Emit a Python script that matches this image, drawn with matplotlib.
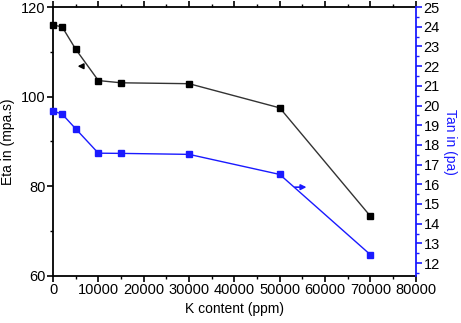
import matplotlib
matplotlib.use("Agg")
import matplotlib.pyplot as plt
from matplotlib.ticker import MultipleLocator

plt.rcParams["font.family"] = ["Liberation Sans", "DejaVu Sans"]

# K content (ppm)
k_content = [0, 2000, 5000, 10000, 15000, 30000, 50000, 70000]
# Eta (left axis, mpa.s)
eta = [116.0, 115.6, 110.6, 103.6, 103.1, 102.9, 97.5, 73.3]
# Tan (right axis, pa)
tan = [19.72, 19.57, 18.82, 17.58, 17.57, 17.52, 16.5, 12.42]

BLUE = "#1a1aff"

fig = plt.figure(figsize=(4.61, 3.23), dpi=100)
ax = fig.add_axes([0.115, 0.146, 0.787, 0.832])
ax2 = ax.twinx()

ax.plot(k_content, eta, color="#333333", lw=1.0, marker="s", ms=4.5,
        mfc="black", mec="black", zorder=3, clip_on=False)
ax2.plot(k_content, tan, color=BLUE, lw=1.0, marker="s", ms=4.5,
         mfc=BLUE, mec=BLUE, zorder=3, clip_on=False)

ax.set_xlim(0, 80000)
ax.set_ylim(60, 120)
ax2.set_ylim(11.35, 25)

ax.xaxis.set_major_locator(MultipleLocator(10000))
ax.xaxis.set_minor_locator(MultipleLocator(5000))
ax.yaxis.set_major_locator(MultipleLocator(20))
ax.yaxis.set_minor_locator(MultipleLocator(10))
ax2.yaxis.set_major_locator(MultipleLocator(1))
ax2.yaxis.set_minor_locator(MultipleLocator(0.5))

for side in ["left", "bottom", "top"]:
    ax.spines[side].set_linewidth(1.3)
ax2.spines["right"].set_linewidth(1.3)
ax2.spines["right"].set_color(BLUE)
ax2.spines["left"].set_visible(False)
ax2.spines["top"].set_visible(False)
ax2.spines["bottom"].set_visible(False)
ax.spines["right"].set_visible(False)

ax.tick_params(axis="both", which="major", direction="out", length=4, width=1.2,
               labelsize=10.5, pad=1.5)
ax.tick_params(axis="both", which="minor", direction="out", length=2.5, width=1.0)
ax.tick_params(axis="x", which="both", top=True)
ax2.tick_params(axis="y", which="major", direction="out", length=4, width=1.2,
                colors=BLUE, labelcolor="black", labelsize=10.5, pad=1.5)
ax2.tick_params(axis="y", which="minor", direction="out", length=2.5, width=1.0, colors=BLUE)

ax.set_xlabel("K content (ppm)", fontsize=10, labelpad=3)
ax.set_ylabel("Eta in (mpa.s)", fontsize=10, labelpad=4)
ax2.set_ylabel("Tan in (pa)", fontsize=10, color=BLUE, rotation=270, labelpad=12)

# small arrows showing which axis each curve belongs to
ax.annotate("", xy=(4800, 106.8), xytext=(7300, 106.8),
            arrowprops=dict(arrowstyle="-|>", color="black", lw=1.2,
                            mutation_scale=8))
ax.annotate("", xy=(56500, 79.8), xytext=(52700, 79.8),
            arrowprops=dict(arrowstyle="-|>", color=BLUE, lw=1.2,
                            mutation_scale=8))

fig.savefig("out.png", dpi=100)
